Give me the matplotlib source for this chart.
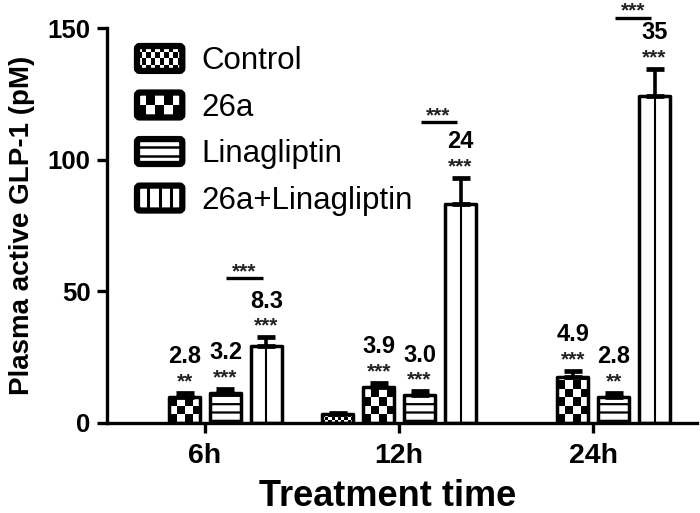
import numpy as np
import matplotlib
matplotlib.use('Agg')
import matplotlib.pyplot as plt
import matplotlib.transforms as mtransforms
from matplotlib.patches import Rectangle, FancyBboxPatch, Patch
from matplotlib.legend_handler import HandlerBase
from matplotlib.lines import Line2D

plt.rcParams['font.family'] = ['Liberation Sans', 'DejaVu Sans']

# ---------------- data ----------------
groups = ['6h', '12h', '24h']
series = ['Control', '26a', 'Linagliptin', '26a+Linagliptin']
control = [np.nan, 3.4, np.nan]
v26a = [10.0, 13.8, 17.4]
lina = [11.4, 10.8, 10.0]
combo = [29.3, 83.0, 124.0]
err_control = [np.nan, 0.5, np.nan]
err_26a = [1.5, 1.4, 2.3]
err_lina = [1.4, 1.2, 1.4]
err_combo = [3.2, 10.0, 10.6]
fold_26a = ['2.8', '3.9', '4.9']
fold_lina = ['3.2', '3.0', '2.8']
fold_combo = ['8.3', '24', '35']
sig_26a = ['**', '***', '***']
sig_lina = ['***', '***', '**']
sig_combo = ['***', '***', '***']
sig_bracket = ['***', '***', '***']
bracket_y = [55.0, 114.3, 153.8]
yticks = [0, 50, 100, 150]

# ---------------- figure ----------------
W, H, DPI = 7.0, 5.13, 100
fig = plt.figure(figsize=(W, H), dpi=DPI)
ax_l, ax_b, ax_w, ax_h = 107/700, 1 - 423/513, (697 - 107)/700, (423 - 28)/513
ax = fig.add_axes([ax_l, ax_b, ax_w, ax_h])
xlim = (-0.505, 2.535)
ylim = (0, 150)
px_x = ax_w * W * DPI / (xlim[1] - xlim[0])
px_y = ax_h * H * DPI / (ylim[1] - ylim[0])

x = np.arange(len(groups))
pitch = 0.211
bw = 0.16
LW = 2.5

def checker_fill(bars, sq_px):
    for b in bars:
        h = b.get_height()
        if not np.isfinite(h) or h <= 0:
            continue
        x0, w = b.get_x(), b.get_width()
        ncols = max(1, int(round(w * px_x / sq_px)))
        nrows = int(np.ceil(h * px_y / sq_px)) + 1
        arr = (np.add.outer(np.arange(nrows), np.arange(ncols)) % 2).astype(float)
        im = ax.imshow(arr, cmap='gray', vmin=0, vmax=1, interpolation='nearest',
                       extent=(x0, x0 + w, 0, nrows * sq_px / px_y), origin='lower',
                       aspect='auto', zorder=2)
        im.set_clip_path(b)

def draw_bars(vals, errs, k, hatch=None):
    pos = x + (k - 1.5) * pitch
    bars = ax.bar(pos, vals, bw, facecolor='white', edgecolor='black', linewidth=LW,
                  hatch=hatch, zorder=3, joinstyle='round')
    for b in bars:
        b.set_facecolor('none')
    ax.errorbar(pos, vals, yerr=[np.zeros(len(vals)), errs], fmt='none', ecolor='black',
                elinewidth=2.6, capsize=6.5, capthick=3.4, zorder=4)
    return pos, bars

plt.rcParams['hatch.linewidth'] = 1.6
p0, b0 = draw_bars(control, err_control, 0)
checker_fill(b0, 3.2)
p1, b1 = draw_bars(v26a, err_26a, 1)
checker_fill(b1, 8.5)
p2, b2 = draw_bars(lina, err_lina, 2, hatch='--')
p3, b3 = draw_bars(combo, err_combo, 3)
for b in b3:
    cx = b.get_x() + b.get_width() / 2
    ax.plot([cx, cx], [0, b.get_height()], color='black', lw=1.5, zorder=3)

# annotations
def off(dy_pt):
    return ax.transData + mtransforms.ScaledTranslation(0, dy_pt / 72, fig.dpi_scale_trans)

def annotate(pos, vals, errs, folds, sigs):
    for xi, v, e, f, s in zip(pos, vals, errs, folds, sigs):
        top = v + e
        ax.text(xi, top, s, transform=off(4), ha='center', va='baseline',
                fontsize=15, fontweight='bold', color='#222222')
        ax.text(xi, top, f, transform=off(21.5), ha='center', va='baseline',
                fontsize=17, fontweight='bold')

annotate(p1, v26a, err_26a, fold_26a, sig_26a)
annotate(p2, lina, err_lina, fold_lina, sig_lina)
annotate(p3, combo, err_combo, fold_combo, sig_combo)

for i in range(len(groups)):
    yb = bracket_y[i]
    xa, xb = p2[i] + 0.005, p3[i] - 0.02
    ax.plot([xa, xb], [yb, yb], color='black', lw=2.4,
            solid_capstyle='butt', clip_on=False)
    ax.text((xa + xb) / 2, yb, sig_bracket[i], transform=off(0.8), ha='center',
            va='baseline', fontsize=15, fontweight='bold', color='#222222',
            clip_on=False)

# axes styling
ax.set_xlim(*xlim)
ax.set_ylim(*ylim)
ax.set_xticks(x)
ax.set_xticklabels(groups)
ax.set_yticks(yticks)
for sp in ['top', 'right']:
    ax.spines[sp].set_visible(False)
for sp in ['left', 'bottom']:
    ax.spines[sp].set_linewidth(2.4)
ax.tick_params(axis='both', width=2.4, length=7.5)
ax.tick_params(axis='y', labelsize=18.5, pad=4.5)
ax.tick_params(axis='x', labelsize=20.5, pad=7)
for lab in ax.get_xticklabels() + ax.get_yticklabels():
    lab.set_fontweight('bold')
ax.set_xlabel('Treatment time', fontsize=26, fontweight='bold', labelpad=7)
ax.xaxis.label.set_x(0.475)
ax.set_ylabel('Plasma active GLP-1 (pM)', fontsize=20, fontweight='bold', labelpad=9)

# legend
class PatternHandler(HandlerBase):
    def __init__(self, kind, n):
        super().__init__()
        self.kind = kind
        self.n = n

    def create_artists(self, legend, orig_handle, xdescent, ydescent, width, height,
                       fontsize, trans):
        x0, y0 = -xdescent, -ydescent
        arts = [FancyBboxPatch((x0, y0), width, height,
                               boxstyle='round,pad=0,rounding_size=2',
                               fc='white', ec='none', transform=trans)]
        if self.kind == 'checker':
            nc, nr = self.n
            cw, ch = width / nc, height / nr
            for i in range(nc):
                for j in range(nr):
                    if (i + j) % 2 == 0:
                        arts.append(Rectangle((x0 + i * cw, y0 + j * ch), cw, ch,
                                              fc='black', ec='none', transform=trans))
        elif self.kind == 'h':
            for k in range(1, self.n):
                yy = y0 + k * height / self.n
                arts.append(Line2D([x0, x0 + width], [yy, yy], color='black', lw=1.8,
                                   transform=trans))
        elif self.kind == 'v':
            for k in range(1, self.n):
                xx = x0 + k * width / self.n
                arts.append(Line2D([xx, xx], [y0, y0 + height], color='black', lw=2.2,
                                   transform=trans))
        arts.append(FancyBboxPatch((x0, y0), width, height,
                                   boxstyle='round,pad=0,rounding_size=2',
                                   fc='none', ec='black', lw=4.5, transform=trans))
        return arts

handles = [Patch(label=s) for s in series]
handler_map = {handles[0]: PatternHandler('checker', (10, 4)),
               handles[1]: PatternHandler('checker', (5, 2)),
               handles[2]: PatternHandler('h', 3),
               handles[3]: PatternHandler('v', 4)}
leg = ax.legend(handles=handles, labels=series, handler_map=handler_map,
                loc='upper left', bbox_to_anchor=(137 / 700, 1 - 46 / 513),
                bbox_transform=fig.transFigure, frameon=False, fontsize=22.5,
                handlelength=1.45, handleheight=0.85, handletextpad=0.6,
                labelspacing=0.52, borderpad=0, borderaxespad=0)

fig.savefig('out.png', dpi=DPI)
